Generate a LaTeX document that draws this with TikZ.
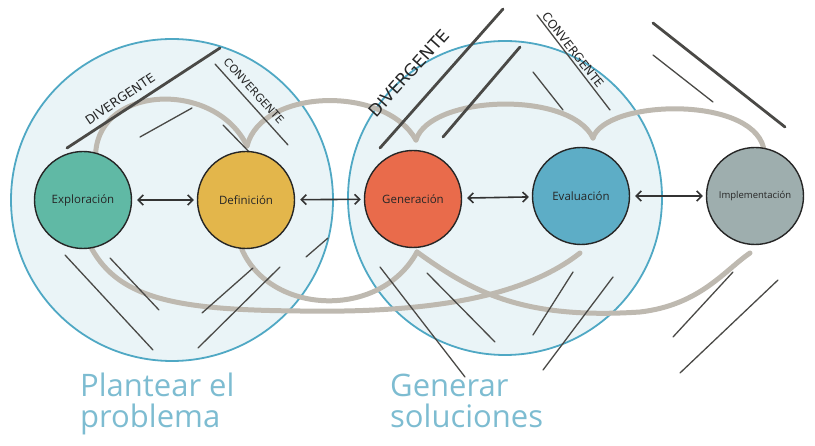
\documentclass[tikz,border=0pt]{standalone}
\usepackage{fontspec}
\setmainfont{Open Sans}
\newfontfamily\tagfont{DejaVu Sans}
\usetikzlibrary{arrows.meta}
\usetikzlibrary{positioning}
\usetikzlibrary{backgrounds}

\definecolor{ringblue}{HTML}{4FA8C4}
\definecolor{ringfill}{HTML}{EAF4F7}
\definecolor{loopgray}{HTML}{BEB9B0}
\definecolor{pencilgray}{HTML}{4A4946}
\definecolor{tealc}{HTML}{60B9A5}
\definecolor{yellowc}{HTML}{E3B64B}
\definecolor{redc}{HTML}{E96B4B}
\definecolor{bluec}{HTML}{5DADC6}
\definecolor{grayc}{HTML}{9EAEAE}
\definecolor{handblue}{HTML}{7DBCD1}

\begin{document}
\begin{tikzpicture}
	[x=1pt,y=-1pt,
	phase/.style={circle,draw=black!85,line width=1.4pt,minimum size=97pt,inner sep=0pt,font=\fontsize{11.5}{13}\selectfont,text=black!85},
	ring/.style={circle,draw=ringblue,line width=1.8pt,fill=ringfill,minimum size=#1,inner sep=0pt},
	loop/.style={draw=loopgray,line width=5pt,line cap=round,line join=round},
	pencil/.style={draw=pencilgray,line width=1.3pt,line cap=round},
	heavy/.style={pencil,line width=2.8pt},
	twoway/.style={{Straight Barb[length=5pt,width=10pt]}-{Straight Barb[length=5pt,width=10pt]},line width=1.6pt,draw=black!80,shorten <=5pt,shorten >=3pt},
	tag/.style={inner sep=0pt,text=black!85,font=\tagfont\fontsize{#1}{#1}\selectfont},
	hand/.style={inner sep=0pt,text=handblue,align=left,font=\fontsize{31}{31}\selectfont}]
	\useasboundingbox (0,0) rectangle (815,446);

	\node[phase,fill=tealc] (explor) at (83,200) {Exploración};
	\node[phase,fill=yellowc] (defin) at (246,200) {Definición};
	\node[phase,fill=redc] (gener) at (413,199) {Generación};
	\node[phase,fill=bluec] (evalu) at (581,196) {Evaluación};
	\node[phase,fill=grayc,font=\fontsize{9.5}{11}\selectfont] (implem) at (755,196) {Implementación};

	\foreach \from/\to in {explor/defin, defin/gener, gener/evalu, evalu/implem}
	\draw[twoway] (\from) -- (\to);

	\begin{scope}[on background layer]
	\node[ring=322pt] (plantear) at (172,200) {};
	\node[ring=314pt] (generar) at (505,198) {};

	% loops above and below the phases
	\coordinate (cuspA) at (247,146);
	\coordinate (cuspB) at (416,140);
	\coordinate (cuspC) at (593,138);
	\coordinate (cuspD) at (417,252);
	\coordinate (tailE) at (750,253);
	\coordinate (tailF) at (580,253);
	\draw[loop] (explor.75) .. controls (100,85) and (215,80) .. (cuspA);
	\draw[loop] (cuspA) .. controls (262,88) and (385,85) .. (cuspB);
	\draw[loop] (cuspB) .. controls (430,95) and (570,90) .. (cuspC);
	\draw[loop] (cuspC) .. controls (605,100) and (750,95) .. (implem.80);
	\draw[loop] (defin.265) .. controls (270,315) and (380,320) .. (cuspD);
	\draw[loop] (cuspD) .. controls (470,290) and (520,320) .. (640,312) .. controls (700,305) and (725,270) .. (tailE);
	\draw[loop] (explor.-80) .. controls (120,300) and (180,310) .. (300,311) .. controls (420,313) and (520,300) .. (tailF);

	% pencil strokes
	\foreach \a/\b in {{67,148}/{220,48}, {380,148}/{503,9}, {443,137}/{520,47}, {653,23}/{785,127}}
	\draw[heavy] (\a) -- (\b);
	\foreach \a/\b in {{215,64}/{288,145}, {140,137}/{192,108}, {223,125}/{257,160},
		{65,255}/{153,350}, {110,258}/{159,310}, {202,313}/{253,268}, {198,348}/{280,267},
		{306,257}/{328,238}, {537,15}/{610,110}, {533,72}/{563,110}, {653,55}/{713,102},
		{427,273}/{495,342}, {380,267}/{465,377}, {533,335}/{573,272}, {543,370}/{613,277},
		{673,337}/{733,272}, {680,373}/{778,280}}
	\draw[pencil] (\a) -- (\b);

	\node[tag=12.5,rotate=34] (divA) at (120,99) {DIVERGENTE};
	\node[tag=11,rotate=-48] (conA) at (254,91) {CONVERGENTE};
	\node[tag=17,rotate=48] (divB) at (409,73) {DIVERGENTE};
	\node[tag=12,rotate=-52] (conB) at (573,50) {CONVERGENTE};
	\end{scope}

	\node[hand,anchor=north west] (problema) at (80,373) {Plantear el\\problema};
	\node[hand,anchor=north west] (soluciones) at (390,374) {Generar\\soluciones};
\end{tikzpicture}
\end{document}
